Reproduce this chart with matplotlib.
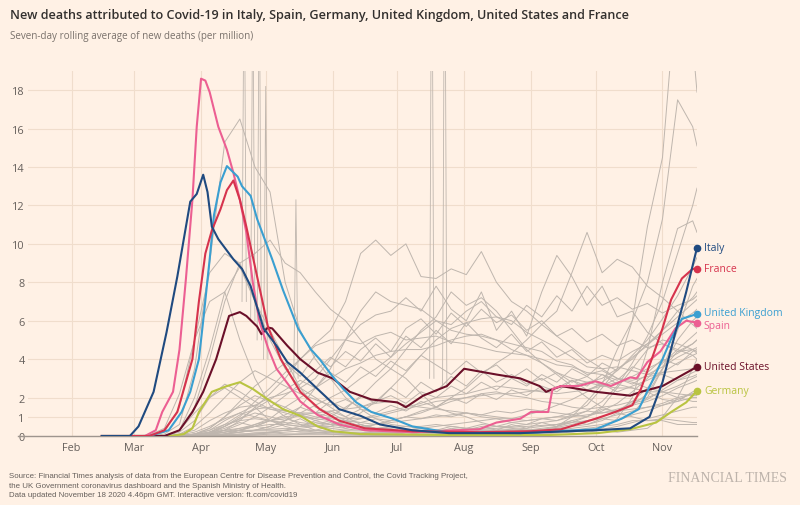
import pandas as pd
import matplotlib
matplotlib.use("Agg")
import matplotlib.pyplot as plt
import matplotlib.dates as mdates

plt.rcParams['font.family'] = ['Open Sans', 'DejaVu Sans']

BG = "#fff1e5"

# ---------------- highlighted countries ----------------
italy_dates = ["2020-02-15", "2020-02-28", "2020-03-03", "2020-03-10", "2020-03-16", "2020-03-21",
               "2020-03-27", "2020-03-30", "2020-04-02", "2020-04-04", "2020-04-06", "2020-04-09",
               "2020-04-16", "2020-04-20", "2020-04-24", "2020-04-30", "2020-05-06", "2020-05-11",
               "2020-05-17", "2020-05-25", "2020-06-04", "2020-06-14", "2020-06-23", "2020-07-08",
               "2020-07-25", "2020-08-27", "2020-09-19", "2020-10-01", "2020-10-17", "2020-10-26",
               "2020-11-01", "2020-11-07", "2020-11-12", "2020-11-17"]
italy_vals = [0, 0, 0.5, 2.3, 5.4, 8.3, 12.2, 12.6, 13.6, 12.7, 10.9, 10.25, 9.2, 8.7, 7.8, 5.6,
              4.7, 3.85, 3.3, 2.45, 1.4, 1.05, 0.6, 0.3, 0.15, 0.15, 0.25, 0.3, 0.4, 1.0, 2.8, 5.4,
              7.5, 9.8]

spain_dates = ["2020-02-15", "2020-03-06", "2020-03-11", "2020-03-14", "2020-03-19", "2020-03-22",
               "2020-03-25", "2020-03-28", "2020-03-30", "2020-04-01", "2020-04-03", "2020-04-05",
               "2020-04-09", "2020-04-13", "2020-04-16", "2020-04-19", "2020-04-22", "2020-04-25",
               "2020-04-28", "2020-05-02", "2020-05-06", "2020-05-12", "2020-05-17", "2020-05-25",
               "2020-06-04", "2020-06-16", "2020-07-08", "2020-08-08", "2020-08-16", "2020-08-27",
               "2020-09-01", "2020-09-09", "2020-09-11", "2020-09-15", "2020-09-23", "2020-10-01",
               "2020-10-08", "2020-10-17", "2020-10-20", "2020-10-25", "2020-10-31", "2020-11-03",
               "2020-11-07", "2020-11-12", "2020-11-17"]
spain_vals = [0, 0, 0.3, 1.25, 2.3, 4.5, 8.2, 12.3, 16.1, 18.6, 18.5, 17.9, 16.1, 14.9, 13.7, 12.3,
              10.6, 8.0, 6.0, 4.6, 3.5, 2.6, 1.8, 1.1, 0.6, 0.3, 0.2, 0.35, 0.7, 0.9, 1.25, 1.25,
              2.45, 2.6, 2.6, 2.85, 2.6, 3.05, 3.0, 3.85, 4.4, 4.9, 5.6, 6.0, 5.9]

france_dates = ["2020-02-15", "2020-03-08", "2020-03-15", "2020-03-21", "2020-03-28", "2020-03-31",
                "2020-04-03", "2020-04-06", "2020-04-10", "2020-04-13", "2020-04-16", "2020-04-19",
                "2020-04-22", "2020-04-27", "2020-05-02", "2020-05-08", "2020-05-17", "2020-05-26",
                "2020-06-04", "2020-06-16", "2020-07-08", "2020-08-08", "2020-09-01", "2020-09-15",
                "2020-10-01", "2020-10-10", "2020-10-18", "2020-10-22", "2020-10-27", "2020-11-01",
                "2020-11-05", "2020-11-10", "2020-11-15", "2020-11-17"]
france_vals = [0, 0, 0.3, 1.25, 4.0, 7.0, 9.5, 10.7, 11.8, 12.8, 13.3, 12.3, 10.9, 8.3, 5.7, 4.0,
               2.3, 1.4, 0.8, 0.4, 0.25, 0.2, 0.25, 0.35, 0.9, 1.25, 1.6, 2.45, 4.0, 5.6, 7.1, 8.2,
               8.7, 8.7]

uk_dates = ["2020-02-15", "2020-03-08", "2020-03-17", "2020-03-23", "2020-03-27", "2020-03-31",
            "2020-04-02", "2020-04-05", "2020-04-07", "2020-04-10", "2020-04-13", "2020-04-18",
            "2020-04-20", "2020-04-24", "2020-04-27", "2020-04-30", "2020-05-04", "2020-05-09",
            "2020-05-16", "2020-05-22", "2020-05-26", "2020-06-01", "2020-06-06", "2020-06-12",
            "2020-06-19", "2020-06-29", "2020-07-08", "2020-07-24", "2020-08-27", "2020-10-01",
            "2020-10-13", "2020-10-21", "2020-10-27", "2020-11-01", "2020-11-05", "2020-11-10",
            "2020-11-17"]
uk_vals = [0, 0, 0.3, 1.25, 2.3, 4.0, 6.0, 9.2, 11.5, 13.2, 14.05, 13.5, 13.0, 12.5, 11.3, 10.4,
           9.2, 7.6, 5.6, 4.5, 4.0, 3.1, 2.45, 1.75, 1.25, 0.9, 0.5, 0.2, 0.15, 0.35, 0.9, 1.4,
           2.8, 4.0, 5.05, 6.1, 6.35]

us_dates = ["2020-02-15", "2020-03-15", "2020-03-22", "2020-03-28", "2020-04-02", "2020-04-08",
            "2020-04-14", "2020-04-19", "2020-04-22", "2020-04-27", "2020-04-29", "2020-05-02",
            "2020-05-04", "2020-05-11", "2020-05-17", "2020-05-25", "2020-06-01", "2020-06-09",
            "2020-06-19", "2020-07-01", "2020-07-05", "2020-07-13", "2020-07-24", "2020-08-01",
            "2020-08-16", "2020-08-27", "2020-09-05", "2020-09-08", "2020-09-15", "2020-10-01",
            "2020-10-17", "2020-10-22", "2020-11-01", "2020-11-09", "2020-11-17"]
us_vals = [0, 0, 0.3, 1.25, 2.3, 4.0, 6.25, 6.45, 6.25, 5.7, 5.3, 5.65, 5.6, 4.7, 4.0, 3.3, 3.0,
           2.3, 1.9, 1.75, 1.5, 2.1, 2.6, 3.5, 3.2, 3.0, 2.6, 2.3, 2.6, 2.3, 2.1, 2.3, 2.6, 3.1,
           3.6]

germany_dates = ["2020-02-15", "2020-03-18", "2020-03-24", "2020-03-28", "2020-03-31", "2020-04-06",
                 "2020-04-13", "2020-04-19", "2020-04-25", "2020-05-02", "2020-05-09", "2020-05-17",
                 "2020-05-25", "2020-06-01", "2020-06-14", "2020-07-25", "2020-09-09", "2020-10-02",
                 "2020-10-17", "2020-10-29", "2020-11-05", "2020-11-12", "2020-11-17"]
germany_vals = [0, 0, 0.1, 0.4, 1.25, 2.3, 2.6, 2.8, 2.45, 1.9, 1.4, 1.05, 0.5, 0.25, 0.1, 0.05,
                0.05, 0.15, 0.35, 0.7, 1.25, 1.75, 2.35]

country_names = ["Germany", "United States", "Spain", "United Kingdom", "France", "Italy"]
country_colors = ["#b9c441", "#6b1029", "#ec5f92", "#3a9fd1", "#d6334d", "#1f4a80"]
label_nudge = [0, 0, -1.8, 1.2, 0, 0]   # points, to keep the close UK/Spain labels apart

# ---------------- background countries (weekly, Mar 1 .. Nov 15, then Nov 17) ----------------
gray_dates = list(pd.date_range("2020-03-01", "2020-11-15", freq="7D")) + [pd.Timestamp("2020-11-17")]

gray_a = [0, 0, 0.1, 0.6, 3.5, 9.0, 15.3, 16.5, 14.0, 12.7,
          8.0, 5.5, 4.0, 3.0, 2.0, 1.4, 0.9, 0.6, 0.5, 0.4,
          0.5, 0.6, 0.7, 0.8, 0.9, 0.7, 0.8, 0.9, 1.0, 1.2,
          1.6, 2.5, 3.5, 6.0, 10.9, 14.5, 24.0, 20.5, 17.9]
gray_b = [0, 0, 0, 0.05, 0.1, 0.2, 0.3, 0.3, 0.2, 0.2,
          0.1, 0.1, 0.1, 0.1, 0.05, 0.05, 0.05, 0.05, 0.05, 0.05,
          0.1, 0.1, 0.1, 0.1, 0.1, 0.1, 0.15, 0.3, 0.5, 1.0,
          1.8, 2.7, 4.5, 6.0, 8.0, 11.3, 17.5, 16.1, 15.1]
gray_c = [0, 0, 0, 0, 0.05, 0.1, 0.2, 0.3, 0.3, 0.3,
          0.3, 0.2, 0.2, 0.2, 0.2, 0.15, 0.2, 0.2, 0.2, 0.3,
          0.3, 0.3, 0.4, 0.4, 0.5, 0.5, 0.6, 0.7, 0.8, 1.0,
          1.3, 1.8, 2.6, 3.8, 5.2, 7.0, 9.5, 12.0, 12.9]
gray_d = [0, 0.05, 0.4, 2.2, 5.0, 7.0, 7.5, 5.0, 3.0, 1.6,
          1.0, 0.6, 0.3, 0.2, 0.1, 0.1, 0.05, 0.05, 0.05, 0.05,
          0.1, 0.1, 0.1, 0.1, 0.1, 0.1, 0.1, 0.1, 0.15, 0.2,
          0.3, 0.4, 0.9, 2.0, 4.5, 8.0, 10.8, 11.2, 10.6]
gray_e = [0, 0, 0, 0.3, 1.5, 4.0, 7.0, 9.0, 9.5, 10.2,
          9.0, 8.5, 7.5, 6.6, 6.0, 5.0, 4.0, 3.5, 3.0, 2.2,
          1.5, 1.2, 1.0, 0.7, 0.5, 0.4, 0.3, 0.2, 0.2, 0.3,
          0.2, 0.3, 0.2, 0.3, 0.4, 1.0, 2.0, 3.5, 4.0]
gray_f = [0, 0, 0.2, 1.5, 5.0, 8.5, 9.5, 9.0, 7.0, 5.0,
          3.5, 2.5, 1.5, 1.2, 0.8, 0.5, 0.3, 0.2, 0.1, 0.1,
          0.1, 0.1, 0.1, 0.2, 0.2, 0.3, 0.3, 0.4, 0.5, 0.7,
          1.0, 1.5, 2.5, 3.5, 4.5, 5.0, 4.8, 4.5, 4.3]
gray_g = [0, 0, 0, 0.3, 2.0, 4.5, 7.5, 8.8, 7.0, 5.5,
          4.0, 2.5, 2.0, 1.5, 1.0, 0.6, 0.4, 0.3, 0.2, 0.1,
          0.1, 0.1, 0.1, 0.1, 0.2, 0.2, 0.2, 0.3, 0.3, 0.3,
          0.4, 0.5, 0.6, 0.8, 0.8, 0.9, 0.8, 0.7, 0.7]
gray_h = [0, 0, 0, 0, 0, 0.1, 0.3, 0.8, 1.5, 2.2,
          3.0, 4.0, 4.8, 5.5, 7.0, 9.5, 10.2, 9.4, 10.0, 8.3,
          8.2, 8.7, 8.4, 9.6, 8.0, 7.0, 6.5, 5.8, 5.2, 4.6,
          4.0, 3.5, 3.0, 2.8, 2.5, 2.3, 2.2, 2.1, 2.1]
gray_i = [0, 0, 0, 0, 0, 0.05, 0.1, 0.2, 0.3, 0.5,
          0.8, 1.5, 2.5, 3.5, 5.0, 6.5, 7.5, 7.0, 6.8, 6.6,
          6.0, 5.5, 5.3, 5.2, 5.0, 4.5, 4.2, 3.8, 3.3, 3.0,
          2.8, 2.6, 2.5, 2.5, 2.3, 2.3, 2.0, 1.8, 1.8]
gray_j = [0, 0, 0, 0, 0.05, 0.1, 0.5, 1.0, 1.8, 2.5,
          3.3, 4.0, 4.7, 5.0, 5.0, 4.8, 5.2, 5.4, 5.0, 5.1,
          5.2, 4.9, 4.8, 4.6, 4.4, 4.3, 4.2, 4.0, 3.7, 3.6,
          3.3, 3.2, 2.7, 2.5, 2.3, 1.9, 1.8, 2.3, 2.4]
gray_k = [0, 0, 0, 0, 0, 0.05, 0.1, 0.3, 0.6, 0.9,
          1.5, 2.0, 2.5, 3.0, 3.5, 3.8, 4.2, 4.4, 4.5, 4.5,
          4.7, 5.0, 5.2, 5.3, 5.0, 4.8, 4.6, 4.4, 3.9, 3.7,
          3.2, 3.4, 3.0, 2.9, 3.1, 3.2, 2.9, 3.1, 3.2]
gray_l = [0, 0, 0, 0, 0, 0, 0, 0.05, 0.1, 0.2,
          0.3, 0.5, 0.8, 1.0, 1.5, 2.0, 2.8, 3.5, 4.5, 5.5,
          6.2, 7.5, 6.8, 7.2, 6.5, 5.5, 4.5, 3.8, 3.2, 2.6,
          2.0, 1.5, 1.2, 1.0, 0.8, 0.8, 0.6, 0.6, 0.6]
gray_m = [0, 0, 0, 0, 0, 0, 0.05, 0.1, 0.1, 0.15,
          0.2, 0.25, 0.3, 0.5, 0.8, 1.2, 1.8, 2.5, 3.3, 4.2,
          5.0, 5.6, 5.9, 6.1, 6.2, 6.0, 5.4, 5.0, 4.6, 4.1,
          3.6, 3.5, 3.6, 3.4, 3.2, 3.3, 3.4, 3.5, 3.6]
gray_n = [0, 0, 0, 0, 0, 0.01, 0.05, 0.05, 0.05, 0.1,
          0.1, 0.1, 0.15, 0.2, 0.3, 0.4, 0.6, 0.8, 1.0, 1.3,
          1.5, 2.0, 2.5, 3.2, 3.8, 4.3, 5.0, 5.8, 6.5, 8.5,
          10.6, 8.5, 9.2, 8.8, 7.8, 7.2, 6.5, 5.8, 5.6]
gray_o = [0, 0, 0, 0, 0.1, 0.3, 0.8, 1.2, 1.6, 2.0,
          2.2, 2.5, 3.0, 4.0, 5.0, 5.8, 6.3, 6.5, 7.2, 6.5,
          7.8, 6.6, 6.0, 7.5, 5.5, 6.5, 5.2, 7.5, 9.4, 8.3,
          6.8, 7.8, 6.2, 6.5, 5.4, 4.8, 4.5, 4.2, 4.0]
gray_p = [0, 0, 0, 0, 0, 0, 0.1, 0.2, 0.3, 0.5,
          0.8, 1.2, 1.6, 2.0, 2.4, 3.0, 3.5, 4.1, 4.8, 5.4,
          6.0, 5.8, 6.5, 7.0, 6.2, 5.8, 6.8, 6.2, 7.3, 6.5,
          7.8, 6.8, 7.2, 6.6, 6.9, 6.4, 6.8, 7.1, 7.3]
mid_1 = [0, 0, 0, 0, 0.1, 0.4, 1.0, 1.8, 2.6, 3.2,
         3.8, 3.1, 4.2, 3.6, 4.4, 3.9, 4.8, 4.1, 5.2, 4.6,
         5.5, 4.8, 5.9, 5.1, 4.6, 5.3, 4.4, 4.9, 4.1, 4.5,
         3.8, 4.2, 3.9, 4.4, 4.8, 5.3, 5.9, 6.4, 6.6]
mid_2 = [0, 0, 0, 0, 0, 0.2, 0.5, 0.9, 1.4, 1.9,
         2.4, 2.9, 2.5, 3.3, 2.8, 3.6, 3.1, 3.9, 3.4, 4.2,
         3.7, 3.2, 3.9, 3.3, 3.7, 3.0, 3.5, 2.9, 3.3, 2.8,
         3.1, 2.6, 3.0, 2.7, 3.2, 3.6, 4.1, 4.5, 4.6]
mid_3 = [0, 0, 0, 0.1, 0.5, 1.2, 2.0, 2.8, 3.4, 3.0,
         2.6, 2.2, 1.9, 1.6, 1.9, 1.5, 1.8, 2.1, 1.7, 2.3,
         2.0, 2.6, 2.2, 2.8, 2.4, 3.0, 2.6, 3.2, 2.8, 3.5,
         3.1, 3.8, 3.4, 4.1, 4.7, 5.5, 6.2, 6.9, 7.1]
mid_4 = [0, 0, 0, 0, 0, 0.1, 0.3, 0.6, 1.0, 1.5,
         2.1, 2.7, 3.4, 4.1, 3.6, 4.5, 5.1, 4.4, 5.6, 6.1,
         5.3, 6.4, 5.7, 6.6, 5.9, 6.3, 5.5, 6.0, 5.2, 5.6,
         4.9, 5.3, 4.7, 5.0, 4.6, 4.8, 4.4, 4.5, 4.4]
mid_5 = [0, 0, 0, 0, 0.05, 0.2, 0.5, 0.9, 1.2, 1.0,
         0.8, 1.1, 0.9, 1.3, 1.0, 1.4, 1.2, 1.6, 1.3, 1.8,
         1.5, 2.0, 1.7, 2.2, 1.9, 2.4, 2.1, 2.6, 2.3, 2.9,
         2.6, 3.2, 2.9, 3.6, 3.3, 4.0, 3.7, 4.4, 4.5]
mid_6 = [0, 0, 0, 0, 0, 0, 0.1, 0.3, 0.5, 0.8,
         1.1, 1.5, 1.2, 1.8, 1.4, 2.1, 1.7, 2.5, 2.0, 2.8,
         2.3, 3.1, 2.6, 3.4, 2.8, 3.2, 2.7, 3.0, 2.5, 2.9,
         2.4, 2.7, 2.3, 2.6, 2.9, 3.3, 3.8, 4.2, 4.3]
low_1 = [0, 0, 0, 0.2, 0.8, 2.0, 2.7, 2.3, 1.8, 1.4,
         1.2, 1.0, 0.9, 0.8, 0.6, 0.5, 0.4, 0.4, 0.5, 0.5,
         0.6, 0.5, 0.4, 0.3, 0.3, 0.3, 0.3, 0.3, 0.4, 0.5,
         0.6, 0.8, 1.2, 1.6, 2.2, 3.5, 5.0, 6.0, 6.2]
low_2 = [0, 0, 0, 0.3, 1.2, 2.0, 2.5, 2.0, 1.5, 0.8,
         0.5, 0.3, 0.2, 0.1, 0.1, 0.05, 0.05, 0.05, 0.05, 0.05,
         0.05, 0.05, 0.05, 0.05, 0.05, 0.1, 0.1, 0.2, 0.3, 0.4,
         0.5, 0.6, 0.8, 1.2, 2.0, 3.5, 5.5, 7.8, 8.2]
low_3 = [0, 0, 0, 0.1, 0.3, 0.8, 1.2, 1.5, 1.6, 1.4,
         1.3, 1.2, 1.2, 1.0, 0.9, 0.9, 1.0, 1.2, 1.4, 1.6,
         1.8, 1.9, 2.0, 2.1, 2.2, 2.2, 2.3, 2.4, 2.5, 2.6,
         2.8, 3.0, 3.5, 4.0, 4.8, 5.5, 6.5, 7.2, 7.5]
low_4 = [0, 0, 0, 0, 0.1, 0.3, 0.6, 0.8, 0.9, 0.8,
         0.7, 0.6, 0.5, 0.5, 0.4, 0.5, 0.6, 0.8, 1.0, 1.2,
         1.5, 1.8, 2.0, 2.2, 2.3, 2.1, 2.0, 1.8, 1.7, 1.5,
         1.4, 1.5, 1.6, 1.8, 2.0, 2.3, 2.6, 3.0, 3.1]
low_5 = [0, 0, 0, 0, 0, 0.1, 0.2, 0.4, 0.5, 0.6,
         0.6, 0.5, 0.5, 0.4, 0.3, 0.3, 0.2, 0.2, 0.2, 0.2,
         0.15, 0.15, 0.2, 0.2, 0.2, 0.25, 0.3, 0.35, 0.45, 0.6,
         0.8, 1.0, 1.3, 1.8, 2.5, 3.5, 4.4, 4.8, 5.0]
low_6 = [0, 0, 0, 0, 0.05, 0.1, 0.3, 0.4, 0.6, 0.8,
         1.0, 1.1, 1.2, 1.3, 1.4, 1.5, 1.7, 1.8, 1.6, 1.5,
         1.4, 1.3, 1.2, 1.0, 0.9, 0.9, 0.8, 0.9, 1.0, 1.0,
         1.1, 1.2, 1.3, 1.4, 1.5, 1.6, 1.8, 2.0, 2.0]
low_7 = [0, 0, 0, 0, 0, 0, 0.05, 0.1, 0.15, 0.2,
         0.3, 0.4, 0.5, 0.6, 0.7, 0.9, 1.1, 1.3, 1.5, 1.7,
         2.0, 2.1, 2.2, 2.4, 2.6, 2.5, 2.4, 2.3, 2.2, 2.3,
         2.4, 2.6, 2.8, 3.1, 3.5, 3.9, 4.3, 4.8, 5.0]
low_8 = [0, 0, 0, 0, 0, 0, 0, 0.02, 0.05, 0.05,
         0.05, 0.1, 0.1, 0.1, 0.1, 0.1, 0.15, 0.15, 0.2, 0.25,
         0.3, 0.3, 0.35, 0.35, 0.4, 0.45, 0.5, 0.55, 0.6, 0.7,
         0.8, 0.9, 1.1, 1.3, 1.5, 1.7, 2.0, 2.2, 2.3]
low_9 = [0, 0, 0, 0, 0, 0.05, 0.1, 0.2, 0.3, 0.35,
         0.4, 0.35, 0.3, 0.25, 0.2, 0.2, 0.15, 0.15, 0.1, 0.1,
         0.1, 0.1, 0.1, 0.1, 0.1, 0.1, 0.1, 0.15, 0.2, 0.25,
         0.3, 0.35, 0.5, 0.7, 0.9, 1.1, 1.3, 1.5, 1.5]
low_10 = [0, 0, 0, 0, 0.05, 0.2, 0.6, 1.1, 1.4, 1.5,
          1.3, 1.2, 1.0, 0.9, 0.8, 0.7, 0.6, 0.7, 0.8, 0.9,
          1.0, 1.1, 1.2, 1.1, 1.0, 0.9, 1.1, 1.3, 1.6, 1.9,
          2.3, 2.8, 3.4, 4.2, 5.0, 6.1, 7.3, 8.8, 9.3]
low_11 = [0, 0, 0, 0.05, 0.2, 0.5, 0.9, 1.2, 1.0, 0.8,
          0.9, 0.7, 0.6, 0.8, 0.5, 0.6, 0.4, 0.5, 0.3, 0.4,
          0.3, 0.5, 0.4, 0.6, 0.5, 0.7, 0.6, 0.9, 0.8, 1.1,
          1.0, 1.4, 1.3, 1.7, 1.9, 2.4, 2.9, 3.3, 3.4]
low_12 = [0, 0, 0, 0, 0.1, 0.4, 1.0, 1.6, 2.1, 1.8,
          1.5, 1.1, 0.8, 0.6, 0.5, 0.4, 0.3, 0.3, 0.25, 0.2,
          0.2, 0.2, 0.25, 0.3, 0.3, 0.35, 0.4, 0.5, 0.6, 0.8,
          1.0, 1.3, 1.7, 2.3, 3.0, 3.8, 4.5, 5.2, 5.4]
low_13 = [0, 0, 0, 0, 0.05, 0.15, 0.4, 0.7, 0.5, 0.8,
          0.6, 0.9, 0.5, 0.7, 0.4, 0.6, 0.3, 0.5, 0.3, 0.4,
          0.2, 0.4, 0.3, 0.5, 0.3, 0.6, 0.4, 0.7, 0.5, 0.8,
          0.6, 0.9, 0.8, 1.1, 1.3, 1.6, 1.9, 2.2, 2.2]
low_14 = [0, 0, 0, 0, 0, 0.05, 0.2, 0.3, 0.5, 0.4,
          0.6, 0.5, 0.7, 0.6, 0.8, 0.7, 0.9, 0.8, 1.0, 0.9,
          1.1, 1.0, 1.2, 1.1, 1.3, 1.2, 1.4, 1.3, 1.2, 1.1,
          1.3, 1.2, 1.4, 1.6, 1.8, 2.1, 2.5, 2.8, 2.9]

# single-day reporting spikes in background countries
spike_dates = ["2020-04-21", "2020-04-25", "2020-04-28", "2020-05-01", "2020-05-15",
               "2020-07-17", "2020-07-23"]
spike_peaks = [26.0, 24.0, 25.0, 18.2, 12.3, 30.0, 30.0]
spike_bases = [7.0, 6.0, 5.0, 4.0, 3.0, 3.0, 2.5]

y_ticks = [0, 1, 2, 4, 6, 8, 10, 12, 14, 16, 18]
month_ticks = ["2020-02-01", "2020-03-01", "2020-04-01", "2020-05-01", "2020-06-01",
               "2020-07-01", "2020-08-01", "2020-09-01", "2020-10-01", "2020-11-01"]

# ---------------- figure ----------------
fig = plt.figure(figsize=(8.0, 5.06), dpi=100, facecolor=BG)
ax = fig.add_axes([28 / 800, 1 - 437 / 506, (697 - 28) / 800, (437 - 72) / 506])
ax.set_facecolor(BG)

gray_all = [gray_a, gray_b, gray_c, gray_d, gray_e, gray_f, gray_g, gray_h, gray_i, gray_j,
            gray_k, gray_l, gray_m, gray_n, gray_o, gray_p, mid_1, mid_2, mid_3, mid_4, mid_5,
            mid_6, low_1, low_2, low_3, low_4, low_5, low_6, low_7, low_8, low_9, low_10,
            low_11, low_12, low_13, low_14]
for vals in gray_all:
    ax.plot(gray_dates, vals, color="#bfb6ae", lw=0.7, zorder=2)

one_day = pd.Timedelta(days=1)
for d, p, b in zip(spike_dates, spike_peaks, spike_bases):
    t = pd.Timestamp(d)
    ax.plot([t - one_day, t, t + one_day], [b, p, b], color="#bfb6ae", lw=0.6, zorder=2)

series = [(germany_dates, germany_vals), (us_dates, us_vals), (spain_dates, spain_vals),
          (uk_dates, uk_vals), (france_dates, france_vals), (italy_dates, italy_vals)]
for (dts, vals), name, col, nudge in zip(series, country_names, country_colors, label_nudge):
    dts = pd.to_datetime(dts)
    ax.plot(dts, vals, color=col, lw=1.5, zorder=4, solid_joinstyle="round")
    ax.plot([dts[-1]], [vals[-1]], "o", ms=4.5, color=col, zorder=5, clip_on=False)
    ax.annotate(name, xy=(dts[-1], vals[-1]), xytext=(5, nudge), textcoords="offset points",
                va="center", ha="left", fontsize=7.5, color=col, annotation_clip=False)

ax.set_ylim(0, 19)
ax.set_xlim(pd.Timestamp("2020-01-11 18:00"), pd.Timestamp("2020-11-17"))
ax.set_yticks(y_ticks)
ax.set_xticks(pd.to_datetime(month_ticks))
ax.xaxis.set_major_formatter(mdates.DateFormatter("%b"))
ax.grid(True, color="#f0ddcc", lw=0.8, zorder=0)
ax.set_axisbelow(True)
for s in ax.spines.values():
    s.set_visible(False)
ax.tick_params(axis="both", length=0, labelsize=7.8, colors="#66605c")
ax.tick_params(axis="y", pad=2.5)
ax.tick_params(axis="x", pad=4)
ax.axhline(0, xmin=-0.015, xmax=1, color="#9e958e", lw=1.0, zorder=3, clip_on=False)

fig.text(10 / 800, 1 - 15 / 506,
         "New deaths attributed to Covid-19 in Italy, Spain, Germany, United Kingdom, United States and France",
         fontsize=9.05, color="#33302e", va="center", ha="left", weight="semibold")
fig.text(10 / 800, 1 - 37 / 506, "Seven-day rolling average of new deaths (per million)",
         fontsize=7.1, color="#7a726c", va="center", ha="left")

footer = ["Source: Financial Times analysis of data from the European Centre for Disease Prevention and Control, the Covid Tracking Project,",
          "the UK Government coronavirus dashboard and the Spanish Ministry of Health.",
          "Data updated November 18 2020 4.46pm GMT. Interactive version: ft.com/covid19"]
for i, line in enumerate(footer):
    fig.text(9 / 800, 1 - (477 + i * 9.5) / 506, line, fontsize=5.7, color="#66605c",
             va="center", ha="left", family=["Liberation Sans", "DejaVu Sans"])
fig.text(787 / 800, 1 - 479 / 506, "FINANCIAL TIMES", fontsize=10, color="#bdb3ab",
         va="center", ha="right", family=["Liberation Serif", "DejaVu Serif"])

fig.savefig("out.png", dpi=100, facecolor=BG)
